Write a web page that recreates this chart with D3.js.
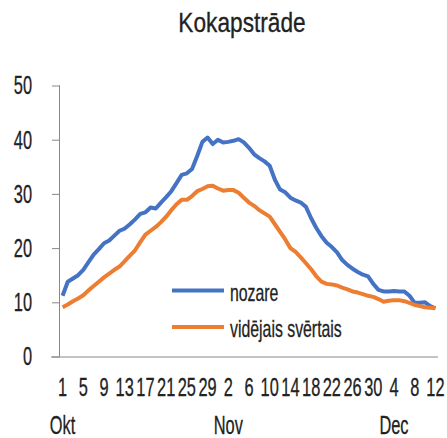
<!DOCTYPE html>
<html>
<head>
<meta charset="utf-8">
<script src="https://cdn.jsdelivr.net/npm/d3@7"></script>
<style>
  body { margin: 0; background: #fff; }
  text { font-family: "Liberation Sans", Arial, sans-serif; fill: #222; stroke: #222; stroke-width: 0.3px; }
</style>
</head>
<body>
<svg id="chart" width="447" height="438"></svg>
<script>
const title = "Kokapstrāde";
const months = [
    { name: "Okt", days: 31 },
    { name: "Nov", days: 30 },
    { name: "Dec", days: 12 }
];
const monthLabelDays = [1, 2, 4]; // month label drawn under this day
const seriesNames = ["nozare", "vidējais svērtais"];
const nozare = [
    11.2, 13.8, 14.4, 15.0, 16.0, 17.4, 18.8, 19.8, 20.9, 21.4,
    22.3, 23.2, 23.6, 24.4, 25.3, 26.3, 26.6, 27.5, 27.3, 28.4,
    29.4, 30.5, 32.0, 33.5, 33.8, 34.6, 37.0, 39.6, 40.4, 39.2,
    40.0, 39.5, 39.6, 39.8, 40.1, 39.5, 38.5, 37.3, 36.6, 36.0,
    35.2, 32.6, 30.8, 30.3, 29.3, 28.8, 28.4, 27.6, 25.5, 23.7,
    22.2, 21.0, 20.2, 19.2, 17.8, 16.9, 16.2, 15.6, 15.1, 14.8,
    13.4, 12.3, 12.0, 12.0, 12.1, 12.0, 12.0, 11.2, 9.9, 9.9,
    10.0, 9.3, 8.9
];
const videjais = [
    9.1, 9.6, 10.2, 10.7, 11.3, 12.2, 13.0, 13.8, 14.6, 15.3,
    16.0, 16.6, 17.6, 18.6, 19.6, 21.1, 22.5, 23.2, 23.9, 24.8,
    25.8, 27.0, 28.1, 28.9, 28.9, 29.6, 30.5, 30.9, 31.4, 31.5,
    31.0, 30.6, 30.7, 30.7, 30.2, 29.3, 28.4, 27.8, 27.0, 26.4,
    25.8, 24.4, 23.0, 21.6, 20.0, 19.3, 18.3, 17.2, 16.1, 14.8,
    13.8, 13.4, 13.3, 13.1, 12.7, 12.4, 12.0, 11.8, 11.5, 11.2,
    11.0, 10.6, 10.1, 10.3, 10.4, 10.4, 10.2, 9.9, 9.5, 9.3,
    9.1, 9.0, 8.9
];
const yTicks = [0, 10, 20, 30, 40, 50];
const colors = ["#4472C4", "#ED7D31"];

// šaurs fonts: saspiežam tekstu horizontāli
const SX = 0.63;

// kategorijas: katra diena ar mēnesi
const days = [];
months.forEach(m => {
    for (let d = 1; d <= m.days; d++) days.push({ key: m.name + "-" + d, month: m.name, day: d });
});

const margin = { top: 85.5, right: 9, bottom: 81.5, left: 60 };
const width = 447 - margin.left - margin.right;
const height = 438 - margin.top - margin.bottom;

const x = d3.scaleBand()
    .domain(days.map(d => d.key))
    .range([0, width]);

const y = d3.scaleLinear()
    .domain([0, 50])
    .range([height, 0]);

const svg = d3.select("#chart");

svg.append("text")
    .attr("transform", "translate(242, 32) scale(0.84, 1)")
    .attr("text-anchor", "middle")
    .style("font-size", "27px")
    .text(title);

const g = svg.append("g")
    .attr("transform", `translate(${margin.left}, ${margin.top})`);

// y ass
const yAxis = g.append("g")
    .call(d3.axisLeft(y).tickValues(yTicks).tickSize(8));
yAxis.select(".domain").attr("stroke", "#888").attr("d", `M-0.5,0V${height}`);
yAxis.selectAll(".tick line").attr("stroke", "#888");
yAxis.selectAll(".tick text")
    .attr("x", -28 / SX)
    .attr("transform", `scale(${SX}, 1)`)
    .style("font-size", "26px")
    .style("font-family", "'Liberation Sans', Arial, sans-serif")
    .attr("fill", "#222");

// x ass
const xAxis = g.append("g")
    .attr("transform", `translate(0, ${height})`)
    .call(d3.axisBottom(x)
        .tickValues(days.filter((d, i) => i % 4 === 0).map(d => d.key))
        .tickFormat(k => k.split("-")[1])
        .tickSize(0)
        .tickPadding(21));
xAxis.select(".domain").attr("stroke", "#888").attr("d", `M-9,0.5H${width}`);
xAxis.selectAll(".tick text")
    .attr("transform", `scale(${SX}, 1)`)
    .style("font-size", "26px")
    .style("font-family", "'Liberation Sans', Arial, sans-serif")
    .attr("fill", "#222");

// mēnešu nosaukumi
g.selectAll(".month")
    .data(months)
    .enter()
    .append("text")
    .attr("class", "month")
    .attr("transform", (m, i) =>
        `translate(${x(m.name + "-" + monthLabelDays[i]) + x.bandwidth() / 2}, ${height + 77}) scale(${SX}, 1)`)
    .attr("text-anchor", "middle")
    .style("font-size", "26px")
    .text(m => m.name);

// līnijas
const line = d3.line()
    .x((v, i) => x(days[i].key) + x.bandwidth() / 2)
    .y(v => y(v));

[nozare, videjais].forEach((s, i) => {
    g.append("path")
        .datum(s)
        .attr("fill", "none")
        .attr("stroke", colors[i])
        .attr("stroke-width", 4)
        .attr("stroke-linejoin", "round")
        .attr("d", line);
});

// leģenda
const legend = svg.append("g")
    .attr("transform", "translate(172, 290.5)");
seriesNames.forEach((name, i) => {
    legend.append("line")
        .attr("x1", 0).attr("x2", 52)
        .attr("y1", i * 36.5).attr("y2", i * 36.5)
        .attr("stroke", colors[i])
        .attr("stroke-width", 4);
    legend.append("text")
        .attr("transform", `translate(58, ${i * 36.5 + 10}) scale(0.66, 1)`)
        .style("font-size", "24px")
        .text(name);
});
</script>
</body>
</html>
